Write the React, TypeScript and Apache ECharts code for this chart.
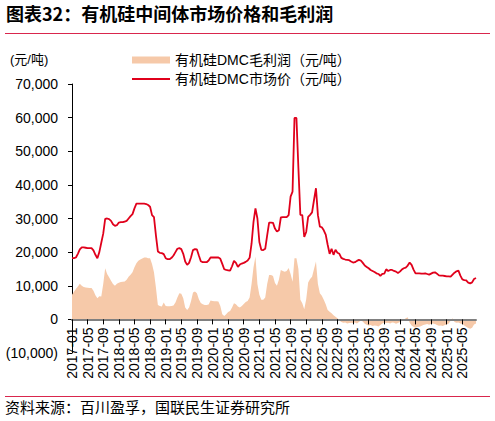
import React, { useEffect, useRef } from "react";
import * as echarts from "echarts";

// Half-month categories, Jan 2017 .. Aug 2025 (label shows YYYY-MM)
const categories: string[] = [];
for (let y = 2017; y <= 2025; y++) {
  for (let m = 1; m <= 12; m++) {
    const mm = m < 10 ? "0" + m : "" + m;
    categories.push(`${y}-${mm}-01`);
    categories.push(`${y}-${mm}-16`);
  }
}
categories.length = 208;

const price2017 = [18200,18200,18400,19500,20800,21400,21400,21300,21200,21200,21200,20500,19200,18200,20000,22800,25500,29900,30000,29800,29300,28300,27800,28000];
const price2018 = [28800,28900,28900,29100,29300,30000,30700,31300,33000,34400,34400,34400,34400,34400,34300,34000,33500,31000,30400,25000,20200,19800,19700,19400];
const price2019 = [18200,17900,17900,18300,19000,20000,21000,21200,20900,19500,17200,16200,16800,18500,20600,20900,20800,19000,17300,17000,17000,17000,17500,18400];
const price2020 = [18400,18400,18400,18400,18000,16500,14900,14700,14600,14500,15800,17400,16800,15600,16300,16600,16800,17100,17500,18300,22500,29000,33000,30000];
const price2021 = [23000,20700,20600,21000,25000,28800,28800,28700,27000,26100,26500,30300,30400,30400,30400,31000,36500,38000,59900,59900,45000,31100,31000,24500];
const price2022 = [26000,30500,31100,31800,35500,39000,31000,27600,27400,26500,25200,22200,19500,21000,19200,20700,19800,19500,18300,18000,17800,17700,17600,17200];
const price2023 = [16900,17000,17400,17700,17500,16800,16000,15600,15200,14700,14400,14100,13700,13500,12900,13500,13600,14900,14400,14700,14700,14400,14200,13800];
const price2024 = [14200,14800,15200,15400,16000,16900,16200,14800,13700,13700,13700,13600,13600,13700,13500,13300,13600,13900,14000,13600,13100,13000,13000,12900];
const price2025 = [12800,12800,12700,13300,13900,14300,14500,13000,11900,11700,11600,10900,10700,11000,12000,12300];

const margin2017 = [7300,8200,9000,9800,10600,10000,9600,9500,9400,9300,9300,8500,7200,6300,6900,6800,10500,15200,13500,12500,11500,10500,10000,10600];
const margin2018 = [10900,11100,11200,11300,11800,12700,13300,14000,15500,16700,17400,17800,18100,18400,18400,18200,18200,16500,14000,9500,4300,4000,3800,5000];
const margin2019 = [4000,3900,3900,4000,4100,5000,6500,7800,7600,6300,3500,2800,3500,5500,8000,8300,7800,6000,4900,4500,4300,4300,4400,5600];
const margin2020 = [5500,5400,5400,5300,4000,1500,1000,1500,2200,2500,3500,4800,4500,3800,3500,4000,4600,5200,5500,6500,10500,15500,18700,10500];
const margin2021 = [7300,5800,5800,6500,10500,13200,13200,12900,10800,10000,11800,14700,14400,14200,14400,15300,13500,11200,18200,18200,15000,5800,4800,3000];
const margin2022 = [6000,11000,12000,12700,15000,17200,10500,7800,7000,5800,4500,2800,2300,1800,1200,800,300,-300,-800,-1000,-900,-1200,-1100,-1000];
const margin2023 = [-1100,-900,-1200,-800,-300,-600,-1300,-1600,-1800,-1700,-2000,-1800,-1900,-2100,-1700,-1200,-900,-1100,-1000,-1200,-900,-1000,-1300,-1100];
const margin2024 = [-800,-500,-200,300,600,-1000,-1800,-2200,-2500,-2300,-2200,-2000,-1700,-1500,-1400,-1600,-1300,-1200,-1400,-1700,-1900,-1800,-2000,-1700];
const margin2025 = [-1500,-1200,-400,300,-800,-1000,-900,-1200,-1400,-1800,-2200,-2600,-2800,-2500,-1500,-1200];

const priceData = [...price2017, ...price2018, ...price2019, ...price2020, ...price2021, ...price2022, ...price2023, ...price2024, ...price2025];
const marginData = [...margin2017, ...margin2018, ...margin2019, ...margin2020, ...margin2021, ...margin2022, ...margin2023, ...margin2024, ...margin2025];

const yTicks = { min: -10000, max: 70000, interval: 10000 };

const TITLE = "图表32：有机硅中间体市场价格和毛利润";
const SOURCE = "资料来源：百川盈孚，国联民生证券研究所";
const UNIT = "(元/吨)";
const MARGIN_NAME = "有机硅DMC毛利润（元/吨）";
const PRICE_NAME = "有机硅DMC市场价（元/吨）";

const FONT = "Liberation Sans, Noto Sans CJK SC, sans-serif";
const CJK = "Noto Sans CJK SC, sans-serif";

const GRID_TOP = 84;
const GRID_BOTTOM = 68;
const H = 421;

export default function App() {
  const ref = useRef<HTMLDivElement>(null);
  useEffect(() => {
    document.body.style.margin = "0";
    const chart = echarts.init(ref.current!, null, { renderer: "svg" });
    // place the category axis on the zero line of the value axis
    const plotH = H - GRID_TOP - GRID_BOTTOM;
    const zeroOffset = -plotH * (0 - yTicks.min) / (yTicks.max - yTicks.min);
    chart.setOption({
      animation: false,
      backgroundColor: "#ffffff",
      grid: { left: 72, right: 19, top: GRID_TOP, bottom: GRID_BOTTOM, containLabel: false },
      legend: {
        orient: "vertical",
        left: 127,
        top: 48,
        itemWidth: 38,
        itemHeight: 7,
        itemGap: 5,
        textStyle: { fontSize: 14, color: "#000", fontFamily: FONT },
        data: [
          { name: MARGIN_NAME, icon: "rect", itemStyle: { color: "#F6C9A9" } },
          { name: PRICE_NAME, icon: "path://M0,0H38V2H0Z", itemStyle: { color: "#E0001B" } },
        ],
      },
      graphic: [
        {
          type: "text",
          left: 6,
          top: 4,
          style: { text: TITLE, fontSize: 18, fontWeight: "bold", fill: "#000", fontFamily: CJK },
        },
        {
          type: "line",
          shape: { x1: 5, y1: 33.5, x2: 490, y2: 33.5 },
          style: { stroke: "#D9264D", lineWidth: 1.2 },
        },
        {
          type: "text",
          left: 10,
          top: 53,
          style: { text: UNIT, fontSize: 13, fill: "#000", fontFamily: FONT },
        },
        {
          type: "line",
          shape: { x1: 5, y1: 396.5, x2: 490, y2: 396.5 },
          style: { stroke: "#D9264D", lineWidth: 1.2 },
        },
        {
          type: "text",
          left: 5,
          top: 399,
          style: { text: SOURCE, fontSize: 15, fill: "#000", fontFamily: CJK },
        },
      ],
      xAxis: {
        type: "category",
        data: categories,
        boundaryGap: false,
        position: "bottom",
        offset: zeroOffset,
        z: 10,
        axisLine: { onZero: false, lineStyle: { color: "#808080", width: 2 } },
        axisTick: { interval: 7, length: 5, lineStyle: { color: "#000" } },
        axisLabel: {
          interval: 7,
          rotate: 90,
          margin: 8,
          fontSize: 14,
          color: "#000",
          fontFamily: FONT,
          formatter: (v: string) => String(v).substring(0, 7),
        },
      },
      yAxis: {
        type: "value",
        min: yTicks.min,
        max: yTicks.max,
        interval: yTicks.interval,
        splitLine: { show: false },
        axisLine: { show: true, lineStyle: { color: "#000", width: 1 } },
        axisTick: { show: true, length: 4, lineStyle: { color: "#000" } },
        axisLabel: {
          margin: 14,
          fontSize: 14,
          color: "#000",
          fontFamily: FONT,
          formatter: (v: number) => {
            const s = Math.abs(v).toLocaleString("en-US");
            return v < 0 ? `(${s})` : s;
          },
        },
      },
      series: [
        {
          name: MARGIN_NAME,
          type: "line",
          data: marginData,
          symbol: "none",
          lineStyle: { width: 0 },
          itemStyle: { color: "#F6C9A9" },
          areaStyle: { color: "#F6C9A9", opacity: 1 },
          z: 2,
        },
        {
          name: PRICE_NAME,
          type: "line",
          data: priceData,
          symbol: "none",
          itemStyle: { color: "#E0001B" },
          lineStyle: { color: "#E0001B", width: 1.8 },
          z: 3,
        },
      ],
    });
    return () => chart.dispose();
  }, []);
  return <div ref={ref} style={{ width: 495, height: 421 }} />;
}
